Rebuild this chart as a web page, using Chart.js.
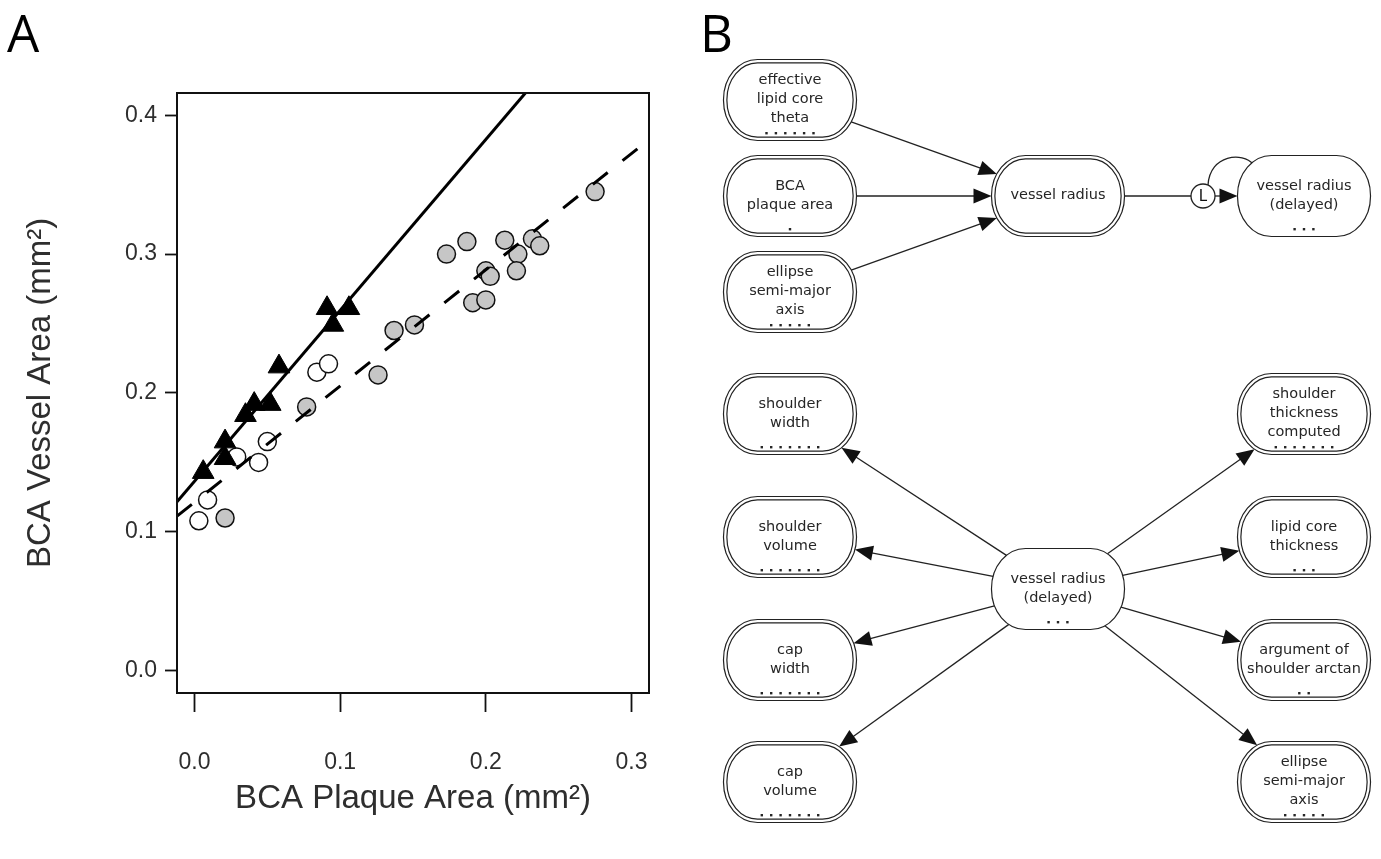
<!DOCTYPE html>
<html><head><meta charset="utf-8">
<script src="https://cdn.jsdelivr.net/npm/chart.js@4.4.1/dist/chart.umd.min.js"></script>
<style>
html,body{margin:0;padding:0;background:#fff;width:1381px;height:859px;overflow:hidden;}
#chartA{position:absolute;left:0;top:0;}
#chartB{position:absolute;left:690px;top:0;}
.panel{position:absolute;font-family:'Open Sans','Liberation Sans',sans-serif;font-size:51px;color:#000;line-height:1;}
</style></head><body>
<canvas id="chartA" width="690" height="859"></canvas>
<canvas id="chartB" width="691" height="859"></canvas>
<div class="panel" style="left:7px;top:7px;">A</div>
<div class="panel" style="left:700px;top:7px;">B</div>
<script>
// ---------- Panel A data ----------
const xTicks = [0.0, 0.1, 0.2, 0.3];
const yTicks = [0.0, 0.1, 0.2, 0.3, 0.4];

const triX = [0.006, 0.021, 0.021, 0.035, 0.041, 0.052, 0.058, 0.091, 0.095, 0.106];
const triY = [0.143, 0.165, 0.153, 0.184, 0.192, 0.192, 0.219, 0.261, 0.249, 0.261];

const openX = [0.003, 0.009, 0.029, 0.044, 0.050, 0.084, 0.092];
const openY = [0.108, 0.123, 0.154, 0.150, 0.165, 0.215, 0.221];

const grayX = [0.021, 0.077, 0.126, 0.137, 0.151, 0.173, 0.187, 0.191, 0.200, 0.200, 0.203, 0.213, 0.222, 0.221, 0.232, 0.237, 0.275];
const grayY = [0.110, 0.190, 0.213, 0.245, 0.249, 0.300, 0.309, 0.265, 0.267, 0.288, 0.284, 0.310, 0.300, 0.288, 0.311, 0.306, 0.345];

// fitted lines (end points)
const solidFitX = [-0.012, 0.240];
const solidFitY = [0.1216, 0.4318];
const dashFitX = [-0.012, 0.3057];
const dashFitY = [0.1113, 0.3772];

const toPts = (xs, ys) => xs.map((x, i) => ({x, y: ys[i]}));
const TXT = '#2e2e2e';
const SANS = "'Liberation Sans', Arial, sans-serif";

const boxPlugin = {
  id: 'box',
  afterDraw(chart) {
    const {ctx, chartArea: a} = chart;
    ctx.save();
    ctx.strokeStyle = '#111';
    ctx.lineWidth = 2;
    ctx.strokeRect(a.left, a.top, a.right - a.left, a.bottom - a.top);
    ctx.restore();
  }
};

new Chart(document.getElementById('chartA'), {
  type: 'scatter',
  data: { datasets: [
    {label: 'fit 1', data: toPts(solidFitX, solidFitY), showLine: true, borderColor: '#000', borderWidth: 3, pointRadius: 0, fill: false},
    {label: 'fit 2', data: toPts(dashFitX, dashFitY), showLine: true, borderColor: '#000', borderWidth: 3, borderDash: [19, 19], pointRadius: 0, fill: false},
    {label: 'triangles', data: toPts(triX, triY), pointStyle: 'triangle', pointRadius: 12.5, backgroundColor: '#000', borderColor: '#000', borderWidth: 1},
    {label: 'open', data: toPts(openX, openY), pointStyle: 'circle', pointRadius: 9, backgroundColor: '#fff', borderColor: '#111', borderWidth: 1.5},
    {label: 'gray', data: toPts(grayX, grayY), pointStyle: 'circle', pointRadius: 9, backgroundColor: '#c6c6c6', borderColor: '#111', borderWidth: 1.5}
  ]},
  options: {
    responsive: false, animation: false, events: [],
    layout: {padding: {top: 93, right: 41, bottom: 0, left: 0}},
    plugins: {legend: {display: false}, tooltip: {enabled: false}},
    scales: {
      x: {
        type: 'linear', min: -0.012, max: 0.312,
        afterBuildTicks: s => { s.ticks = xTicks.map(v => ({value: v})); },
        afterFit: s => { s.height = 166; s.paddingLeft = 0; s.paddingRight = 0; },
        grid: {display: true, drawOnChartArea: false, drawTicks: true, tickLength: 19, tickWidth: 1.8, tickColor: '#111'},
        border: {display: false},
        ticks: {padding: 37, autoSkip: false, maxRotation: 0, color: TXT, font: {family: SANS, size: 23}, callback: v => Number(v).toFixed(1)},
        title: {display: true, text: 'BCA Plaque Area (mm²)', color: TXT, font: {family: SANS, size: 33}, padding: {top: 0, bottom: 40}}
      },
      y: {
        type: 'linear', min: -0.016, max: 0.416,
        afterBuildTicks: s => { s.ticks = yTicks.map(v => ({value: v})); },
        afterFit: s => { s.width = 177; s.paddingTop = 0; s.paddingBottom = 0; },
        grid: {display: true, drawOnChartArea: false, drawTicks: true, tickLength: 12, tickWidth: 1.8, tickColor: '#111'},
        border: {display: false},
        ticks: {padding: 8, autoSkip: false, color: TXT, font: {family: SANS, size: 23}, callback: v => Number(v).toFixed(1)},
        title: {display: true, text: 'BCA Vessel Area (mm²)', color: TXT, font: {family: SANS, size: 33}, padding: {top: 21, bottom: 0}}
      }
    }
  },
  plugins: [boxPlugin]
});

// ---------- Panel B (influence diagram) ----------
const nodeLabels = [
  'effective\nlipid core\ntheta', 'BCA\nplaque area', 'ellipse\nsemi-major\naxis',
  'vessel radius', 'L', 'vessel radius\n(delayed)',
  'shoulder\nwidth', 'shoulder\nvolume', 'cap\nwidth', 'cap\nvolume',
  'vessel radius\n(delayed)',
  'shoulder\nthickness\ncomputed', 'lipid core\nthickness', 'argument of\nshoulder arctan', 'ellipse\nsemi-major\naxis'
];
const nodeDots = [6, 1, 5, 0, 0, 3, 7, 7, 7, 7, 3, 7, 3, 2, 5];
const nodeKind = ['double', 'double', 'double', 'double', 'lag', 'single', 'double', 'double', 'double', 'double', 'single', 'double', 'double', 'double', 'double'];
// [from, to, arrowhead?]
const edges = [[0, 3, 1], [1, 3, 1], [2, 3, 1], [3, 4, 0], [4, 5, 1],
  [10, 6, 1], [10, 7, 1], [10, 8, 1], [10, 9, 1], [10, 11, 1], [10, 12, 1], [10, 13, 1], [10, 14, 1]];

// layout grid of the diagram (page pixel units)
const colX = [790, 1058, 1304];
const lagX = 1203;
const topRowY = [100, 196, 292];
const lowRowY = [414, 537, 660, 782];
const hubY = 589;
const nodeCol = [colX[0], colX[0], colX[0], colX[1], lagX, colX[2], colX[0], colX[0], colX[0], colX[0], colX[1], colX[2], colX[2], colX[2], colX[2]];
const nodeRow = [topRowY[0], topRowY[1], topRowY[2], topRowY[1], topRowY[1], topRowY[1], lowRowY[0], lowRowY[1], lowRowY[2], lowRowY[3], hubY, lowRowY[0], lowRowY[1], lowRowY[2], lowRowY[3]];

const NW = 133, NH = 81, RX = 34, RY = 40, LAGR = 12;

function shapePath(ctx, cx, cy, w, h, rx, ry) {
  const l = cx - w / 2, r = cx + w / 2, t = cy - h / 2, b = cy + h / 2;
  ctx.beginPath();
  ctx.moveTo(l + rx, t);
  ctx.lineTo(r - rx, t);
  ctx.ellipse(r - rx, t + ry, rx, ry, 0, -Math.PI / 2, 0);
  ctx.lineTo(r, b - ry);
  ctx.ellipse(r - rx, b - ry, rx, ry, 0, 0, Math.PI / 2);
  ctx.lineTo(l + rx, b);
  ctx.ellipse(l + rx, b - ry, rx, ry, 0, Math.PI / 2, Math.PI);
  ctx.lineTo(l, t + ry);
  ctx.ellipse(l + rx, t + ry, rx, ry, 0, Math.PI, 1.5 * Math.PI);
  ctx.closePath();
}
function inside(kind, cx, cy, px, py) {
  if (kind === 'lag') return Math.hypot(px - cx, py - cy) <= LAGR;
  const dx = Math.abs(px - cx), dy = Math.abs(py - cy);
  const hw = NW / 2, hh = NH / 2;
  if (dx > hw || dy > hh) return false;
  if (dx > hw - RX && dy > hh - RY) {
    const ex = (dx - (hw - RX)) / RX, ey = (dy - (hh - RY)) / RY;
    return ex * ex + ey * ey <= 1;
  }
  return true;
}
function exitPoint(kind, cx, cy, px, py) {
  let lo = 0, hi = 1;
  for (let i = 0; i < 40; i++) {
    const m = (lo + hi) / 2;
    if (inside(kind, cx, cy, cx + (px - cx) * m, cy + (py - cy) * m)) lo = m; else hi = m;
  }
  return [cx + (px - cx) * lo, cy + (py - cy) * lo];
}

const diagramPlugin = {
  id: 'diagram',
  afterDatasetsDraw(chart) {
    const ctx = chart.ctx;
    const pts = chart.getDatasetMeta(0).data.map(e => [e.x, e.y]);
    ctx.save();
    ctx.strokeStyle = '#222';
    ctx.fillStyle = '#111';
    ctx.lineWidth = 1.3;
    // edges
    edges.forEach(([a, b, arrow]) => {
      const [ax, ay] = pts[a], [bx, by] = pts[b];
      const s = exitPoint(nodeKind[a], ax, ay, bx, by);
      const t = exitPoint(nodeKind[b], bx, by, ax, ay);
      const dx = t[0] - s[0], dy = t[1] - s[1], L = Math.hypot(dx, dy);
      const ux = dx / L, uy = dy / L;
      const AL = 18, AW = 7.5;
      const endX = arrow ? t[0] - ux * AL * 0.8 : t[0], endY = arrow ? t[1] - uy * AL * 0.8 : t[1];
      ctx.beginPath(); ctx.moveTo(s[0], s[1]); ctx.lineTo(endX, endY); ctx.stroke();
      if (arrow) {
        ctx.beginPath();
        ctx.moveTo(t[0], t[1]);
        ctx.lineTo(t[0] - ux * AL - uy * AW, t[1] - uy * AL + ux * AW);
        ctx.lineTo(t[0] - ux * AL + uy * AW, t[1] - uy * AL - ux * AW);
        ctx.closePath(); ctx.fill();
      }
    });
    // lag loop arc
    const li = nodeKind.indexOf('lag');
    const [lx, ly] = pts[li];
    ctx.beginPath();
    ctx.moveTo(lx + 5, ly - 11);
    ctx.bezierCurveTo(lx + 7, ly - 42, lx + 40, ly - 44, lx + 50, ly - 32);
    ctx.stroke();
    // nodes
    nodeLabels.forEach((label, i) => {
      const [cx, cy] = pts[i];
      const kind = nodeKind[i];
      ctx.fillStyle = '#fff';
      if (kind === 'lag') {
        ctx.lineWidth = 1.3;
        ctx.beginPath(); ctx.arc(cx, cy, LAGR, 0, 2 * Math.PI); ctx.fill(); ctx.stroke();
        ctx.fillStyle = '#111';
        ctx.font = "15px 'DejaVu Sans', sans-serif";
        ctx.textAlign = 'center'; ctx.textBaseline = 'middle';
        ctx.fillText(label, cx, cy + 1);
        return;
      }
      ctx.lineWidth = 1.2;
      shapePath(ctx, cx, cy, NW, NH, RX, RY);
      ctx.fill(); ctx.stroke();
      if (kind === 'double') {
        const g = 3.4;
        shapePath(ctx, cx, cy, NW - 2 * g, NH - 2 * g, RX - g, RY - g);
        ctx.stroke();
      }
      ctx.fillStyle = '#262626';
      ctx.font = "14.5px 'DejaVu Sans', sans-serif";
      ctx.textAlign = 'center'; ctx.textBaseline = 'middle';
      const lines = label.split('\n');
      const lh = 19;
      const y0 = cy - 0.5 - (lines.length - 1) * lh / 2;
      lines.forEach((ln, k) => ctx.fillText(ln, cx, y0 + k * lh));
      const n = nodeDots[i];
      for (let k = 0; k < n; k++) {
        const dx = cx + (k - (n - 1) / 2) * 9.4;
        ctx.fillRect(dx - 1.2, cy + 32, 2.4, 2.4);
      }
    });
    ctx.restore();
  }
};

new Chart(document.getElementById('chartB'), {
  type: 'scatter',
  data: {datasets: [{label: 'nodes', data: nodeCol.map((x, i) => ({x, y: nodeRow[i]})), pointRadius: 0}]},
  options: {
    responsive: false, animation: false, events: [],
    layout: {padding: 0},
    plugins: {legend: {display: false}, tooltip: {enabled: false}},
    scales: {
      x: {type: 'linear', min: 690, max: 1381, display: false},
      y: {type: 'linear', min: 0, max: 859, reverse: true, display: false}
    }
  },
  plugins: [diagramPlugin]
});
</script>
</body></html>
